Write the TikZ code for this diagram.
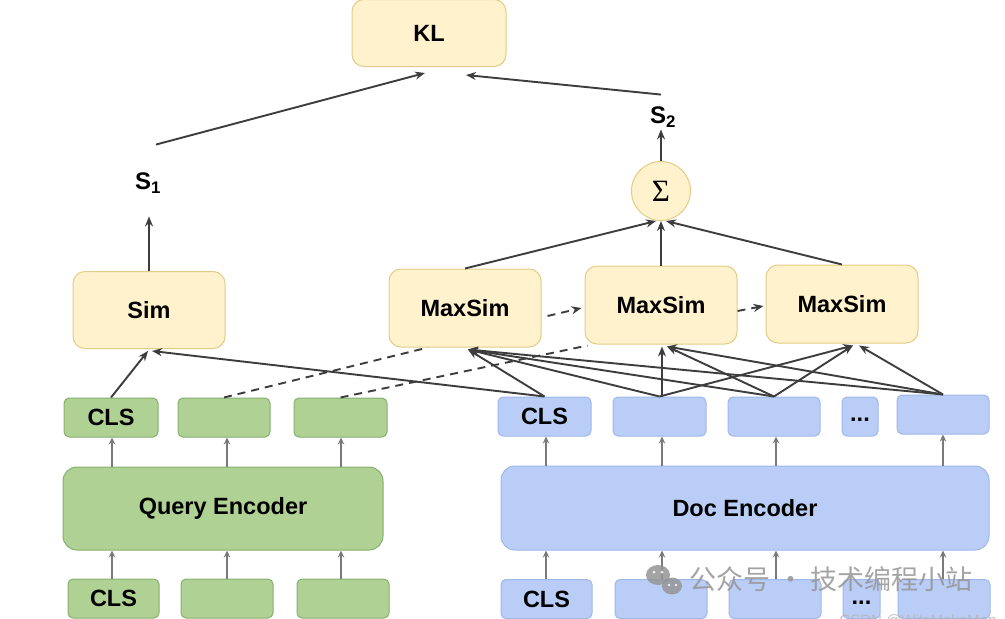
\documentclass[tikz,border=0pt]{standalone}
\usepackage{fontspec}
\setmainfont{Liberation Sans}
\newfontfamily\serifgr{Liberation Serif}
\newfontfamily\cjkfont{Noto Sans CJK SC}
\usetikzlibrary{arrows.meta}
\definecolor{yfill}{HTML}{FFF2CC}
\definecolor{ydraw}{HTML}{E3CC86}
\definecolor{gfill}{HTML}{AFD193}
\definecolor{gdraw}{HTML}{86B06F}
\definecolor{bfill}{HTML}{B9CDF7}
\definecolor{bdraw}{HTML}{9FB8EA}
\definecolor{lc}{HTML}{3D3D3D}
\definecolor{gc}{HTML}{7A7A7A}
\definecolor{wm}{HTML}{959595}
\begin{document}
\begin{tikzpicture}[x=1pt,y=-1pt,
  lbl/.style={font=\bfseries\fontsize{23.5}{27}\selectfont},
  ybox/.style={draw=ydraw, fill=yfill, line width=1pt, rounded corners=12pt, inner sep=0pt, lbl},
  gtok/.style={draw=gdraw, fill=gfill, line width=1pt, rounded corners=5pt, inner sep=0pt, minimum height=39pt, lbl},
  btok/.style={draw=bdraw, fill=bfill, line width=1pt, rounded corners=5pt, inner sep=0pt, minimum height=39pt, lbl},
  genc/.style={draw=gdraw, fill=gfill, line width=1pt, rounded corners=14pt, inner sep=0pt, minimum height=83pt, lbl},
  benc/.style={draw=bdraw, fill=bfill, line width=1pt, rounded corners=14pt, inner sep=0pt, minimum height=84pt, lbl},
  conn/.style={draw=lc, line width=1.9pt, -{Stealth[length=10pt,width=8pt]}},
  plain/.style={draw=lc, line width=1.9pt},
  dconn/.style={conn, dash pattern=on 8pt off 6pt},
  dplain/.style={plain, dash pattern=on 8pt off 6pt},
  garr/.style={draw=gc, line width=1.6pt, -{Stealth[length=7pt,width=6.5pt]}},
  slbl/.style={inner sep=0pt, font=\bfseries\fontsize{24}{28}\selectfont}
]
\useasboundingbox (0,0) rectangle (1005,619);
\clip (0,0) rectangle (1005,619);
\fill[white] (0,0) rectangle (1005,619);

% top
\node[ybox, minimum width=154pt, minimum height=67pt] (KL) at (429,33) {KL};
\node[slbl] (S1) at (148,183) {S\textsubscript{1}};
\node[slbl] (S2) at (663,117) {S\textsubscript{2}};
\node[circle, draw=ydraw, fill=yfill, line width=1pt, minimum size=59pt, inner sep=0pt,
      font=\serifgr\fontsize{31}{34}\selectfont] (Sig) at (661,191) {Σ};

% middle boxes
\node[ybox, minimum width=152pt, minimum height=77pt] (Sim) at (149,310) {Sim};
\node[ybox, minimum width=152pt, minimum height=78pt] (M1) at (465,308) {MaxSim};
\node[ybox, minimum width=152pt, minimum height=78pt] (M2) at (661,305) {MaxSim};
\node[ybox, minimum width=152pt, minimum height=78pt] (M3) at (842,304) {MaxSim};

% token rows (output)
\node[gtok, minimum width=94pt] (Q1) at (111,417.5) {CLS};
\node[gtok, minimum width=92pt] (Q2) at (224,417.5) {};
\node[gtok, minimum width=93pt] (Q3) at (340.5,417.5) {};
\node[btok, minimum width=93pt] (D0) at (544.5,416.5) {CLS};
\node[btok, minimum width=93pt] (D1) at (659.5,416.5) {};
\node[btok, minimum width=92pt] (D2) at (774,416.5) {};
\node[btok, minimum width=36pt] (DD) at (860,416.5) {...\strut};
\node[btok, minimum width=92pt] (D3) at (943,414.5) {};

% encoders
\node[genc, minimum width=320pt] (QE) at (223,508.5) {Query Encoder};
\node[benc, minimum width=488pt] (DE) at (745,508) {Doc Encoder};

% input rows
\node[gtok, minimum width=91pt] (I1) at (113.5,598.5) {CLS};
\node[gtok, minimum width=92pt] (I2) at (227,598.5) {};
\node[gtok, minimum width=92pt] (I3) at (343,598.5) {};
\node[btok, minimum width=91pt] (J0) at (546.5,599) {CLS};
\node[btok, minimum width=92pt] (J1) at (661,599) {};
\node[btok, minimum width=92pt] (J2) at (775,599) {};
\node[btok, minimum width=37pt] (JD) at (861.5,599) {...\strut};
\node[btok, minimum width=92pt] (J3) at (944,599) {};

% gray arrows input -> encoder -> output
\draw[garr] (I1.north -| 112,0) -- (QE.south -| 112,0);
\draw[garr] (I2.north -| 227,0) -- (QE.south -| 227,0);
\draw[garr] (I3.north -| 341,0) -- (QE.south -| 341,0);
\draw[garr] (QE.north -| 112,0) -- (Q1.south -| 112,0);
\draw[garr] (QE.north -| 227,0) -- (Q2.south -| 227,0);
\draw[garr] (QE.north -| 341,0) -- (Q3.south -| 341,0);
\draw[garr] (J0.north -| 546,0) -- (DE.south -| 546,0);
\draw[garr] (J1.north -| 662,0) -- (DE.south -| 662,0);
\draw[garr] (J2.north -| 776,0) -- (DE.south -| 776,0);
\draw[garr] (J3.north -| 943,0) -- (DE.south -| 943,0);
\draw[garr] (DE.north -| 546,0) -- (D0.south -| 546,0);
\draw[garr] (DE.north -| 662,0) -- (D1.south -| 662,0);
\draw[garr] (DE.north -| 776,0) -- (D2.south -| 776,0);
\draw[garr] (DE.north -| 943,0) -- (D3.south -| 943,0);

% Sim connections
\draw[conn] (Q1.north) -- ([xshift=-1pt,yshift=-2pt]Sim.south);
\draw[conn] (D0.north) -- ([xshift=3pt,yshift=-2pt]Sim.south);

% dashed query token links
\draw[dplain] (Q2.north) -- ([xshift=-37pt]M1.south);
\draw[dplain] (Q3.north) -- ([xshift=3pt,yshift=-1pt]M2.south west);
\draw[dconn] ([xshift=6pt,yshift=-8pt]M1.east) -- ([xshift=-3pt,yshift=-3pt]M2.west);
\draw[dconn] ([yshift=-6pt]M2.east) -- ([xshift=-2pt,yshift=-2pt]M3.west);

% doc tokens -> MaxSim
\draw[conn] (D0.north) -- ([xshift=3pt,yshift=-2pt]M1.south);
\draw[conn] (D1.north) -- ([xshift=3pt,yshift=-2pt]M1.south);
\draw[conn] (D2.north) -- ([xshift=3pt,yshift=-2pt]M1.south);
\draw[conn] (D3.north) -- ([xshift=3pt,yshift=-2pt]M1.south);
\draw[conn] (D1.north -| 662,0) -- ([xshift=1pt,yshift=-2pt]M2.south);
\draw[conn] (D2.north) -- ([xshift=6pt,yshift=-2pt]M2.south);
\draw[conn] (D3.north) -- ([xshift=6pt,yshift=-2pt]M2.south);
\draw[conn] (D1.north) -- ([xshift=11pt,yshift=-2pt]M3.south);
\draw[conn] (D2.north) -- ([xshift=11pt,yshift=-2pt]M3.south);
\draw[conn] (D3.north) -- ([xshift=17pt,yshift=-2pt]M3.south);

% MaxSim -> Sigma
\draw[conn] (M1.north) -- ([xshift=-5pt]Sig.south);
\draw[conn] (M2.north) -- (Sig.south);
\draw[conn] (M3.north) -- ([xshift=5pt]Sig.south);

% to S labels
\draw[conn, shorten >=23pt] (Sim.north) -- (Sim.north |- S1.south);
\draw[conn, shorten >=2pt] (Sig.north) -- (Sig.north |- S2.south);

% to KL
\draw[conn] ([xshift=8pt,yshift=28pt]S1.north) -- ([xshift=-4pt,yshift=-6pt]KL.south);
\draw[conn] ([xshift=-2pt,yshift=12pt]S2.north) -- ([xshift=37pt,yshift=-8pt]KL.south);

% watermark
\begin{scope}[opacity=0.85]
\fill[wm] (658,575) ellipse (12pt and 10pt);
\fill[wm] (672,586) ellipse (10pt and 8.5pt);
\fill[white] (654,572) circle (1.5pt) (662,572) circle (1.5pt);
\fill[white] (669,585) circle (1.3pt) (676,585) circle (1.3pt);
\node[text=wm, inner sep=0pt, font=\cjkfont\fontsize{27}{30}\selectfont] (WM) at (831,579) {公众号 · 技术编程小站};
\node[text=wm!70, inner sep=0pt, font=\fontsize{15}{18}\selectfont] (CS) at (918,621) {CSDN @WitsMakeMen};
\end{scope}
\end{tikzpicture}
\end{document}
